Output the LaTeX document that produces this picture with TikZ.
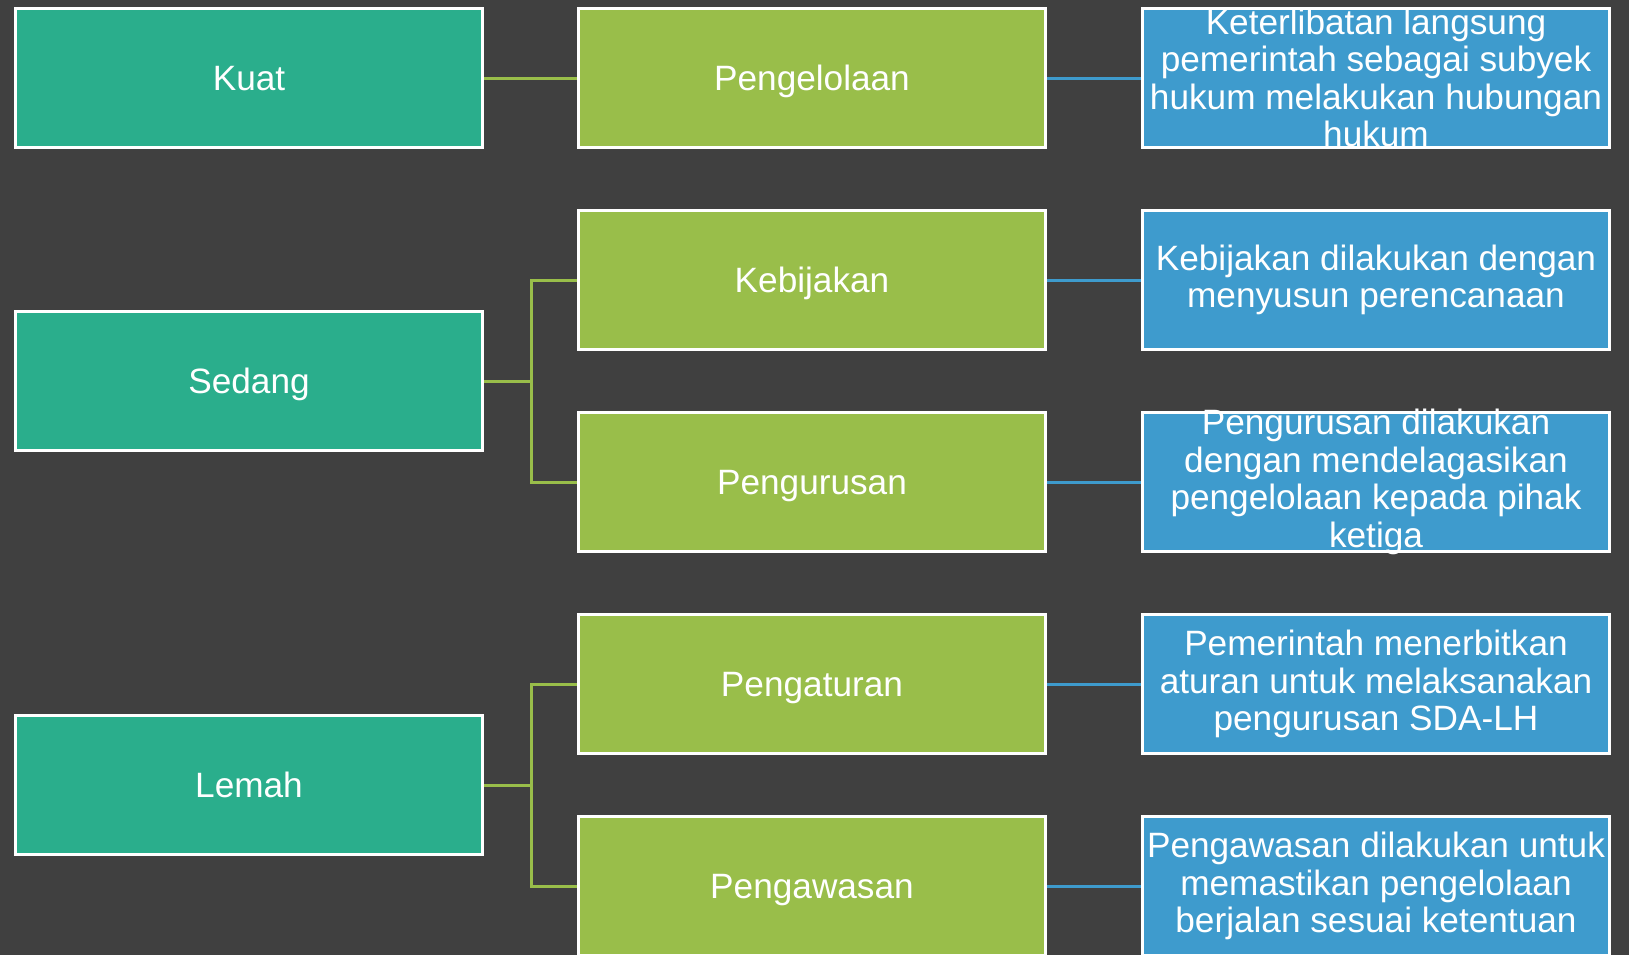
\documentclass[tikz,border=0pt]{standalone}
\usepackage{fontspec}
\setmainfont{Liberation Sans}
\definecolor{bgc}{HTML}{404040}
\definecolor{tealc}{HTML}{2AAE8C}
\definecolor{greenc}{HTML}{99BE4A}
\definecolor{bluec}{HTML}{3E9BCD}
\begin{document}
\begin{tikzpicture}[x=0.5pt,y=-0.5pt,
  box/.style={draw=white, line width=1.5pt, minimum width=233.5pt, minimum height=69.5pt,
    inner sep=1pt, text=white, align=center,
    font=\fontsize{17.6pt}{18.75pt}\selectfont},
  lvlone/.style={box, fill=tealc, text height=12.6pt, text depth=0pt},
  lvltwo/.style={box, fill=greenc, text height=12.6pt, text depth=0pt},
  lvlthree/.style={box, fill=bluec, inner ysep=-5pt},
  gline/.style={draw=greenc, line width=1.5pt},
  bline/.style={draw=bluec, line width=1.5pt}]
\fill[bgc] (0,0) rectangle (1629,955);
\useasboundingbox (0,0) rectangle (1629,955);
\clip (0,0) rectangle (1629,955);
\coordinate (bus) at (531,0);
% level 1
\node[lvlone] (kuat) at (249,78) {Kuat};
\node[lvlone] (sedang) at (249,381) {Sedang};
\node[lvlone] (lemah) at (249,785) {Lemah};
% level 2
\node[lvltwo] (pengelolaan) at (812,78) {Pengelolaan};
\node[lvltwo] (kebijakan) at (812,280) {Kebijakan};
\node[lvltwo] (pengurusan) at (812,482) {Pengurusan};
\node[lvltwo] (pengaturan) at (812,684) {Pengaturan};
\node[lvltwo] (pengawasan) at (812,886) {Pengawasan};
% level 3
\node[lvlthree] (dkuat) at (1376,78) {Keterlibatan langsung\\pemerintah sebagai subyek\\hukum melakukan hubungan\\hukum};
\node[lvlthree] (dkeb) at (1376,280) {Kebijakan dilakukan dengan\\menyusun perencanaan};
\node[lvlthree] (dpur) at (1376,482) {Pengurusan dilakukan\\dengan mendelagasikan\\pengelolaan kepada pihak\\ketiga};
\node[lvlthree] (dtur) at (1376,684) {Pemerintah menerbitkan\\aturan untuk melaksanakan\\pengurusan SDA-LH};
\node[lvlthree] (dwas) at (1376,886) {Pengawasan dilakukan untuk\\memastikan pengelolaan\\berjalan sesuai ketentuan};
% connectors
\draw[gline] (kuat.east) -- (pengelolaan.west);
\draw[gline] (sedang.east) -- (sedang.east -| bus) |- (kebijakan.west);
\draw[gline] (sedang.east -| bus) |- (pengurusan.west);
\draw[gline] (lemah.east) -- (lemah.east -| bus) |- (pengaturan.west);
\draw[gline] (lemah.east -| bus) |- (pengawasan.west);
\draw[bline] (pengelolaan.east) -- (dkuat.west);
\draw[bline] (kebijakan.east) -- (dkeb.west);
\draw[bline] (pengurusan.east) -- (dpur.west);
\draw[bline] (pengaturan.east) -- (dtur.west);
\draw[bline] (pengawasan.east) -- (dwas.west);
\end{tikzpicture}
\end{document}
